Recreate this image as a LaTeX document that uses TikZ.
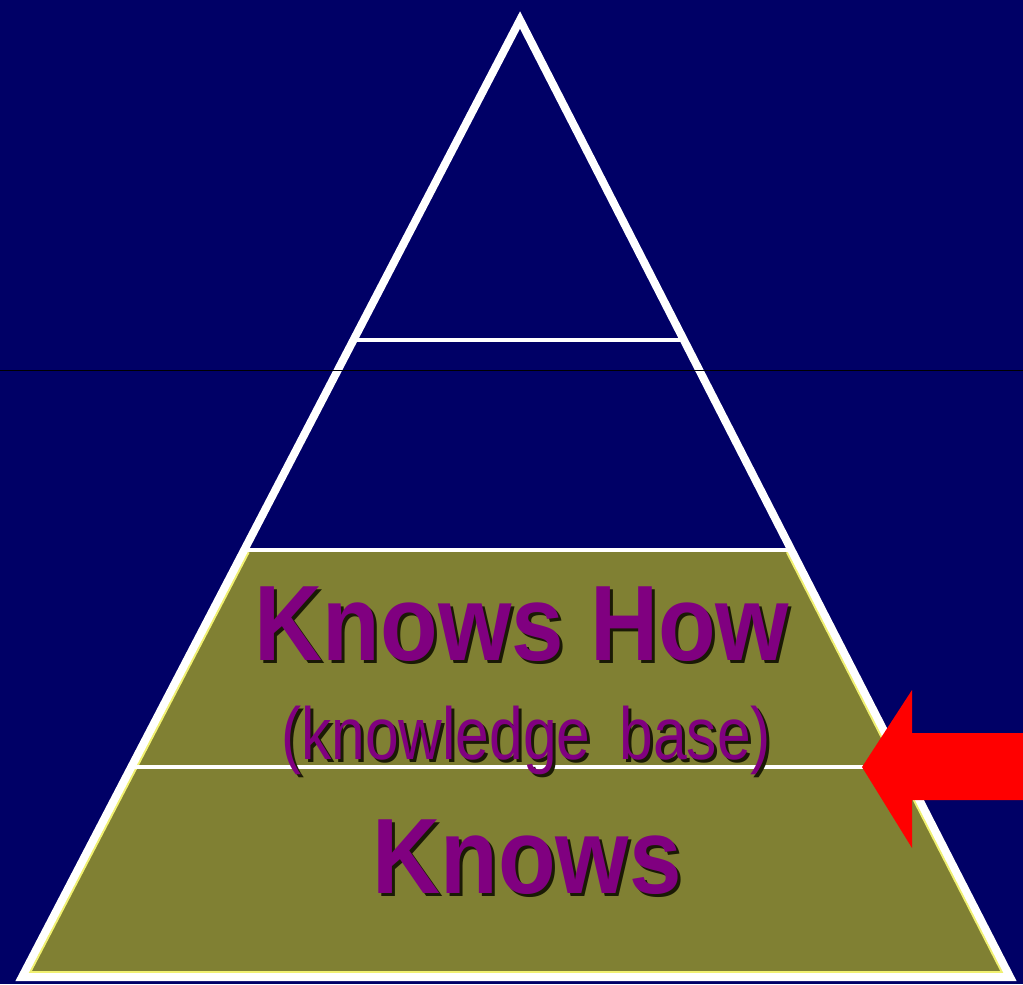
\documentclass[tikz,border=0pt]{standalone}
\usepackage{fontspec}
\setmainfont{Liberation Sans}
\usetikzlibrary{calc}
\definecolor{bgnavy}{HTML}{000066}
\definecolor{bandolive}{HTML}{808033}
\definecolor{edgeyellow}{HTML}{F0F070}
\definecolor{txtpurple}{HTML}{800080}
\definecolor{txtshade}{HTML}{1A1A05}
\newcommand{\shadowed}[1]{\makebox[0pt][l]{\hspace{0.06cm}\raisebox{-0.06cm}{\color{txtshade}#1}}#1}
\tikzset{
  big/.style={anchor=base, inner sep=0pt, text=txtpurple, font=\bfseries\fontsize{61}{61}\selectfont},
  small/.style={anchor=base, inner sep=0pt, text=txtpurple, font=\fontsize{42}{42}\selectfont}
}

\begin{document}
\begin{tikzpicture}[x=0.02cm,y=-0.02cm]
                        \fill[bgnavy] (0,0) rectangle (1023,984);
                        \useasboundingbox (0,0) rectangle (1023,984);
                        \coordinate (A) at (520,20);
                        \coordinate (BL) at (22,977);
                        \coordinate (BR) at (1010,977);
                        \coordinate (L1) at ($(A)!0.3344!(BL)$);
                        \coordinate (R1) at ($(A)!0.3344!(BR)$);
                        \coordinate (L2) at ($(A)!0.5538!(BL)$);
                        \coordinate (R2) at ($(A)!0.5538!(BR)$);
                        \coordinate (L3) at ($(A)!0.7806!(BL)$);
                        \coordinate (R3) at ($(A)!0.7806!(BR)$);
                        % lower bands
                        \fill[bandolive] (L2) -- (BL) -- (BR) -- (R2) -- cycle;
                        \begin{scope}
                        \clip (A) -- (BL) -- (BR) -- cycle;
                        \draw[edgeyellow, line width=0.24cm] (L2) -- (BL) -- (BR) -- (R2);
                        \end{scope}
                        \draw[white, line width=0.16cm, line join=miter] (A) -- (BL) -- (BR) -- cycle;
                        \path[white, line width=0.08cm]
                        (L1) edge (R1)
                        (L2) edge (R2)
                        (L3) edge (R3);
                        \draw[black, line width=0.4pt] (0,370) -- (1023,370);
                        % texts
                        \node[big] (knowshow) at (522,660) {\shadowed{\scalebox{0.88}[1]{Knows How}}};
                        \node[small] (kbase) at (526,759) {\shadowed{\scalebox{0.82}[1]{(knowledge \hspace{0.3cm}base)}}};
                        \node[big] (knows) at (527,893) {\shadowed{\scalebox{0.88}[1]{Knows}}};
                        % arrow
                        \coordinate (tip) at (862,767);
                        \fill[red] (tip) -- (912,690) -- (912,733) -- (1023,733)
                        -- (1023,800) -- (912,800) -- (912,848) -- cycle;
                        \end{tikzpicture}
\end{document}
